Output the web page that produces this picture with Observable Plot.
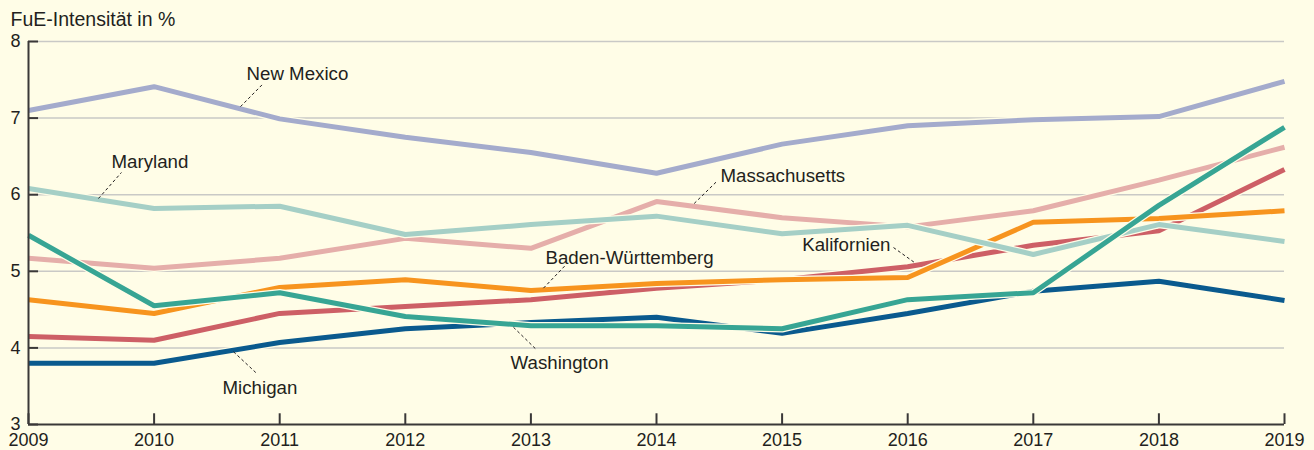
<!DOCTYPE html>
<html>
<head>
<meta charset="utf-8">
<script src="https://cdn.jsdelivr.net/npm/d3@7"></script>
<script src="https://cdn.jsdelivr.net/npm/@observablehq/plot@0.6"></script>
<style>
  html, body { margin: 0; padding: 0; background: #fffde7; }
  #chart svg { display: block; }
</style>
</head>
<body>
<div id="chart"></div>
<script>
const years = [2009, 2010, 2011, 2012, 2013, 2014, 2015, 2016, 2017, 2018, 2019];
const yTicks = [3, 4, 5, 6, 7, 8];
const gridTicks = [4, 5, 6, 7, 8];

const newMexico        = [7.10, 7.41, 6.99, 6.75, 6.55, 6.28, 6.66, 6.90, 6.98, 7.02, 7.48];
const kalifornien      = [4.15, 4.10, 4.45, 4.54, 4.63, 4.78, 4.89, 5.06, 5.34, 5.53, 6.33];
const massachusetts    = [5.17, 5.04, 5.17, 5.43, 5.30, 5.91, 5.70, 5.58, 5.79, 6.19, 6.62];
const badenWuerttemberg= [4.63, 4.45, 4.79, 4.89, 4.75, 4.84, 4.89, 4.92, 5.64, 5.69, 5.79];
const michigan         = [3.80, 3.80, 4.07, 4.25, 4.33, 4.40, 4.19, 4.45, 4.74, 4.87, 4.62];
const maryland         = [6.08, 5.82, 5.85, 5.48, 5.61, 5.72, 5.49, 5.60, 5.22, 5.61, 5.39];
const washington       = [5.47, 4.55, 4.72, 4.41, 4.29, 4.29, 4.25, 4.63, 4.72, 5.86, 6.88];

// drawing order (bottom to top)
const seriesNames  = ["New Mexico", "Kalifornien", "Massachusetts", "Baden-Württemberg", "Michigan", "Maryland", "Washington"];
const seriesValues = [newMexico, kalifornien, massachusetts, badenWuerttemberg, michigan, maryland, washington];
const seriesColors = ["#a4abcc", "#cd5f66", "#e5aeaa", "#f7941e", "#0a5a8e", "#a5cfc6", "#37a594"];

// labels: name, year, value, anchor
const labelNames  = ["New Mexico", "Maryland", "Massachusetts", "Baden-Württemberg", "Kalifornien", "Washington", "Michigan"];
const labelYears  = [2010.736, 2009.661, 2014.51, 2013.116, 2015.863, 2012.838, 2010.545];
const labelValues = [7.57, 6.43, 6.24, 5.17, 5.34, 3.80, 3.47];
const labelAnchor = ["start", "start", "start", "start", "end", "start", "start"];

// leader lines
const leaderX1 = [2010.688, 2009.557, 2014.30, 2013.10, 2015.887, 2012.861, 2010.632];
const leaderY1 = [7.15, 5.95, 5.885, 4.78, 5.31, 4.27, 3.95];
const leaderX2 = [2010.863, 2009.740, 2014.478, 2013.276, 2016.054, 2013.036, 2010.815];
const leaderY2 = [7.44, 6.29, 6.17, 5.08, 5.115, 3.99, 3.67];

const bg = "#fffde7";
const fontFamily = "'Liberation Sans', Arial, sans-serif";

const lineMarks = [];
seriesNames.forEach((name, i) => {
  const data = years.map((y, j) => ({year: y, value: seriesValues[i][j], name}));
  lineMarks.push(Plot.line(data, {x: "year", y: "value", stroke: bg, strokeWidth: 7.5, strokeLinejoin: "miter", strokeLinecap: "butt"}));
  lineMarks.push(Plot.line(data, {x: "year", y: "value", stroke: seriesColors[i], strokeWidth: 5, strokeLinejoin: "miter", strokeLinecap: "butt"}));
});

const labels = labelNames.map((n, i) => ({name: n, year: labelYears[i], value: labelValues[i], anchor: labelAnchor[i]}));
const leaders = labelNames.map((n, i) => ({x1: leaderX1[i], y1: leaderY1[i], x2: leaderX2[i], y2: leaderY2[i]}));

const chart = Plot.plot({
  width: 1314,
  height: 450,
  marginLeft: 28,
  marginRight: 30,
  marginTop: 41,
  marginBottom: 26,
  style: {background: bg, fontFamily, color: "#231f20"},
  x: {domain: [2009, 2019], axis: null},
  y: {domain: [3, 8], axis: null},
  marks: [
    Plot.ruleY(gridTicks, {x1: 2009, x2: 2019, stroke: "#c9c9c6", strokeWidth: 1.5}),
    ...lineMarks,
    Plot.link(leaders, {x1: "x1", y1: "y1", x2: "x2", y2: "y2", stroke: "#231f20", strokeWidth: 1, strokeDasharray: "3,2.5"}),
    Plot.text(labels.filter(d => d.anchor === "start"), {x: "year", y: "value", text: "name", textAnchor: "start", fontSize: 18.7, fill: "#231f20"}),
    Plot.text(labels.filter(d => d.anchor === "end"), {x: "year", y: "value", text: "name", textAnchor: "end", fontSize: 18.7, fill: "#231f20"}),
    Plot.ruleX([2009], {y1: 3, y2: 8, stroke: "#3a3838", strokeWidth: 2}),
    Plot.ruleY([3], {x1: 2009, x2: 2019, stroke: "#3a3838", strokeWidth: 2}),
    Plot.ruleY(yTicks, {x1: 2009, x2: 2009.08, stroke: "#3a3838", strokeWidth: 2}),
    Plot.ruleX(years, {y1: 3, y2: 3.14, stroke: "#3a3838", strokeWidth: 2}),
    Plot.axisY(yTicks, {tickSize: 0, tickPadding: 8, fontSize: 18, fill: "#231f20", label: null, tickFormat: d => String(d)}),
    Plot.axisX(years, {tickSize: 0, tickPadding: 9, fontSize: 18, fill: "#231f20", label: null, tickFormat: d => String(d)}),
    Plot.text(["FuE-Intensität in %"], {frameAnchor: "top-left", dx: -18, dy: -29, textAnchor: "start", lineAnchor: "top", fontSize: 19.5, fill: "#231f20"})
  ]
});
document.getElementById("chart").append(chart);
</script>
</body>
</html>
